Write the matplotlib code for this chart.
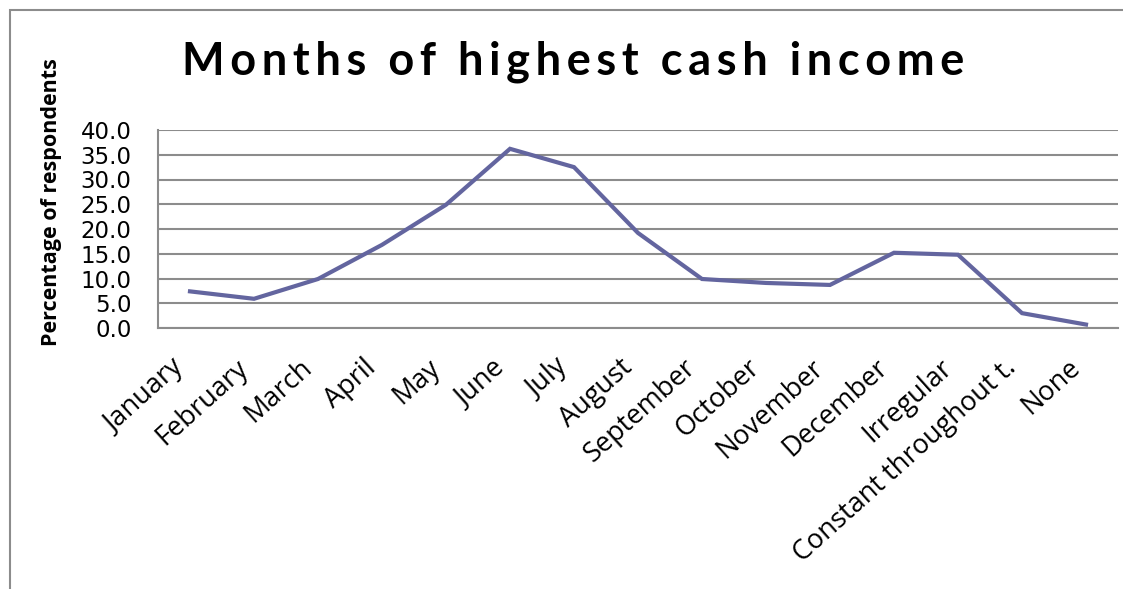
import matplotlib.pyplot as plt
from matplotlib.patches import Rectangle
from matplotlib.transforms import ScaledTranslation

categories = ['January', 'February', 'March', 'April', 'May', 'June', 'July',
              'August', 'September', 'October', 'November', 'December',
              'Irregular', 'Constant throughout t.', 'None']
percent = [7.4, 5.9, 9.9, 16.8, 24.9, 36.2, 32.5, 19.2, 9.9, 9.1, 8.7, 15.2,
           14.8, 3.0, 0.7]
yticks = [0, 5, 10, 15, 20, 25, 30, 35, 40]
title = 'Months of highest cash income'

W, H = 1123, 589
fig = plt.figure(figsize=(W / 100, H / 100), dpi=100)

# outer chart border (only left and top edges visible)
fig.patches.append(Rectangle((10 / W, -0.1), 1.2, 1 - 10 / H + 0.1,
                             transform=fig.transFigure, fill=False,
                             edgecolor='#8c8c8c', lw=1.5))

ax = fig.add_axes([158 / W, 1 - 328 / H, (1118 - 158) / W, (328 - 130) / H])
x = list(range(len(categories)))
ax.plot(x, percent, color='#63659f', lw=3, solid_joinstyle='miter')

ax.set_xlim(-0.5, len(categories) - 0.5)
ax.set_ylim(0, 40)
ax.set_yticks(yticks)
ax.set_yticklabels([f'{v:.1f}' for v in yticks], family='DejaVu Sans', fontsize=16.5)
ax.set_xticks(x)
ax.set_xticklabels(categories, rotation=42, ha='right', rotation_mode='anchor',
                   family='Open Sans', fontsize=19.5)
ax.tick_params(axis='y', length=0, pad=19)
ax.tick_params(axis='x', length=0, pad=10)
shift = ScaledTranslation(-19 / 100, -12 / 100, fig.dpi_scale_trans)
for lab in ax.get_xticklabels():
    lab.set_transform(lab.get_transform() + shift)

ax.grid(axis='y', color='#8c8c8c', lw=1.5)
ax.set_axisbelow(True)
for side in ['top', 'right']:
    ax.spines[side].set_visible(False)
for side in ['left', 'bottom']:
    ax.spines[side].set_color('#8c8c8c')
    ax.spines[side].set_linewidth(1.5)

fig.text(52 / W, 1 - 202 / H, 'Percentage of respondents', rotation=90,
         ha='center', va='center', family='Open Sans', fontweight='bold',
         fontsize=15.5)

# Excel-style wide letter spacing in the title
spaced = '  '.join('\u2009'.join(word) for word in title.split())
fig.text(573 / W, 1 - 62 / H, spaced, ha='center', va='center',
         family=['Lato', 'DejaVu Sans'], fontweight='bold', fontsize=32.5)

fig.savefig('out.png', dpi=100)
